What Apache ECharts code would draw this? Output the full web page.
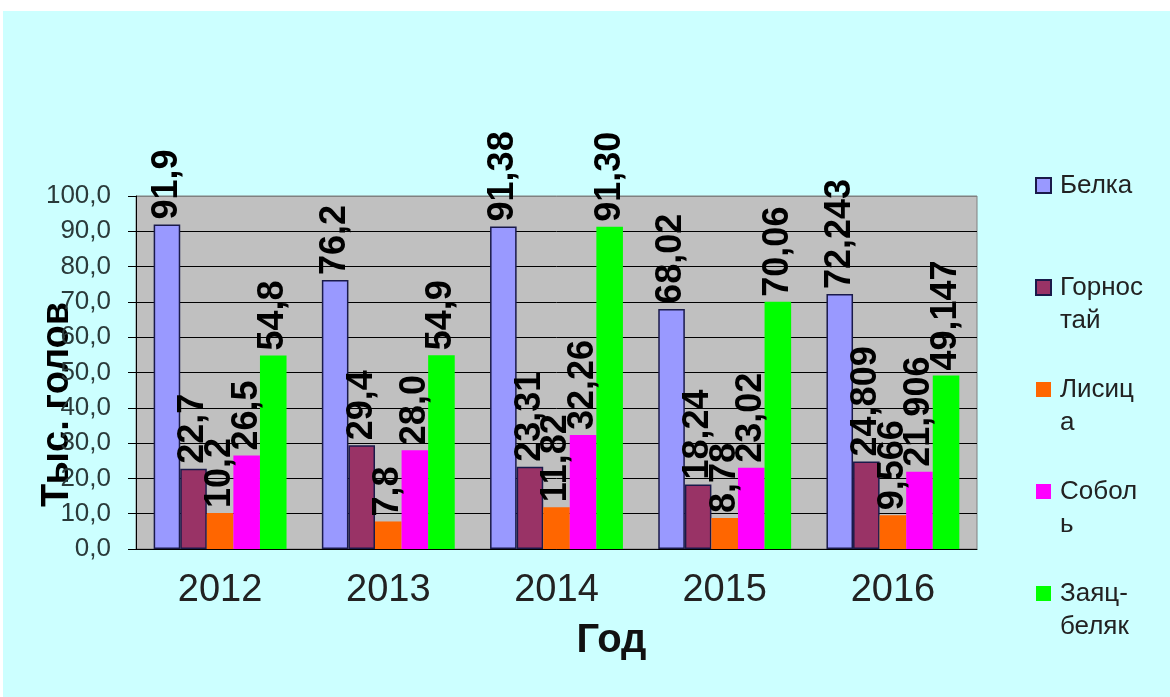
<!DOCTYPE html>
<html>
<head>
<meta charset="utf-8">
<script src="https://cdn.jsdelivr.net/npm/echarts@6/dist/echarts.min.js"></script>
<style>
  html, body { margin: 0; padding: 0; background: #fff; }
  #chart { position: absolute; left: 3px; top: 11px; width: 1167px; height: 686px; }
</style>
</head>
<body>
<div id="chart"></div>
<script>
// categories and values (thousand head)
var years = ['2012', '2013', '2014', '2015', '2016'];
var decimals = [1, 1, 2, 2, 3]; // digits shown in labels per year
var belka = [91.9, 76.2, 91.38, 68.02, 72.243];
var gornostai = [22.7, 29.4, 23.31, 18.24, 24.809];
var lisica = [10.2, 7.8, 11.82, 8.78, 9.566];
var sobol = [26.5, 28.0, 32.26, 23.02, 21.906];
var zayac = [54.8, 54.9, 91.30, 70.06, 49.147];

var FONT = '"Liberation Sans", Arial, sans-serif';

// legend text wrapped like in the original
// (blank first line keeps the icon level with the first text line)
var legendText = {
  'Белка': ' \nБелка\n ',
  'Горностай': ' \nГорнос\nтай',
  'Лисица': ' \nЛисиц\nа',
  'Соболь': ' \nСобол\nь',
  'Заяц-беляк': ' \nЗаяц-\nбеляк'
};

function fmt(v, d) {
  return v.toFixed(d).replace('.', ',');
}

function makeSeries(name, data, color, border) {
  return {
    name: name,
    type: 'bar',
    data: data,
    barGap: '0%',
    barCategoryGap: '21%',
    itemStyle: {
      color: color,
      borderColor: border ? '#1a1a4a' : color,
      borderWidth: border ? 1.5 : 0
    },
    label: {
      show: true,
      position: 'top',
      rotate: 90,
      align: 'left',
      verticalAlign: 'middle',
      distance: 5,
      fontSize: 36,
      fontWeight: 'bold',
      fontFamily: FONT,
      color: '#000',
      formatter: function (p) {
        return fmt(p.value, decimals[p.dataIndex]);
      }
    }
  };
}

var chart = echarts.init(document.getElementById('chart'));

var splitColors = [];
for (var i = 0; i < 10; i++) splitColors.push('#000');
splitColors.push('#808080');

var options = {
  animation: false,
  backgroundColor: '#CCFFFF',
  textStyle: { fontFamily: FONT },
  grid: {
    left: 133,
    right: 193,
    top: 185,
    bottom: 148,
    show: true,
    backgroundColor: '#C0C0C0',
    borderColor: '#808080',
    borderWidth: 1,
    outerBoundsMode: 'none'
  },
  legend: {
    orient: 'vertical',
    left: 1032,
    top: 125,
    padding: 0,
    icon: 'rect',
    itemWidth: 15,
    itemHeight: 15,
    itemGap: 3,
    formatter: function (n) { return legendText[n]; },
    textStyle: {
      fontSize: 26,
      color: '#222',
      lineHeight: 33,
      padding: [0, 0, 0, 4]
    }
  },
  xAxis: {
    type: 'category',
    data: years,
    axisLine: { lineStyle: { color: '#000', width: 1 } },
    axisTick: { length: 10, lineStyle: { color: '#000' } },
    axisLabel: { fontSize: 38, color: '#222', margin: 23 },
    name: 'Год',
    nameLocation: 'middle',
    nameGap: 72,
    nameMoveOverlap: false,
    nameTextStyle: {
      fontSize: 40,
      fontWeight: 'bold',
      color: '#111',
      padding: [0, 0, 0, 110]
    }
  },
  yAxis: {
    type: 'value',
    min: 0,
    max: 100,
    interval: 10,
    axisLine: { show: true, lineStyle: { color: '#000' } },
    axisTick: { show: true, length: 8, lineStyle: { color: '#000' } },
    axisLabel: {
      fontSize: 26,
      color: '#2a3a3a',
      margin: 25,
      formatter: function (v) { return fmt(v, 1); }
    },
    splitLine: { show: true, lineStyle: { color: splitColors, width: 1 } },
    name: 'Тыс. голов',
    nameLocation: 'middle',
    nameRotate: 90,
    nameGap: 59,
    nameMoveOverlap: false,
    nameTextStyle: {
      fontSize: 38,
      fontWeight: 'bold',
      color: '#000',
      padding: [0, 64, 0, 0]
    }
  },
  series: [
    makeSeries('Белка', belka, '#9999FF', true),
    makeSeries('Горностай', gornostai, '#993366', true),
    makeSeries('Лисица', lisica, '#FF6600', false),
    makeSeries('Соболь', sobol, '#FF00FF', false),
    makeSeries('Заяц-беляк', zayac, '#00FF00', false)
  ]
};

chart.setOption(options);
</script>
</body>
</html>
